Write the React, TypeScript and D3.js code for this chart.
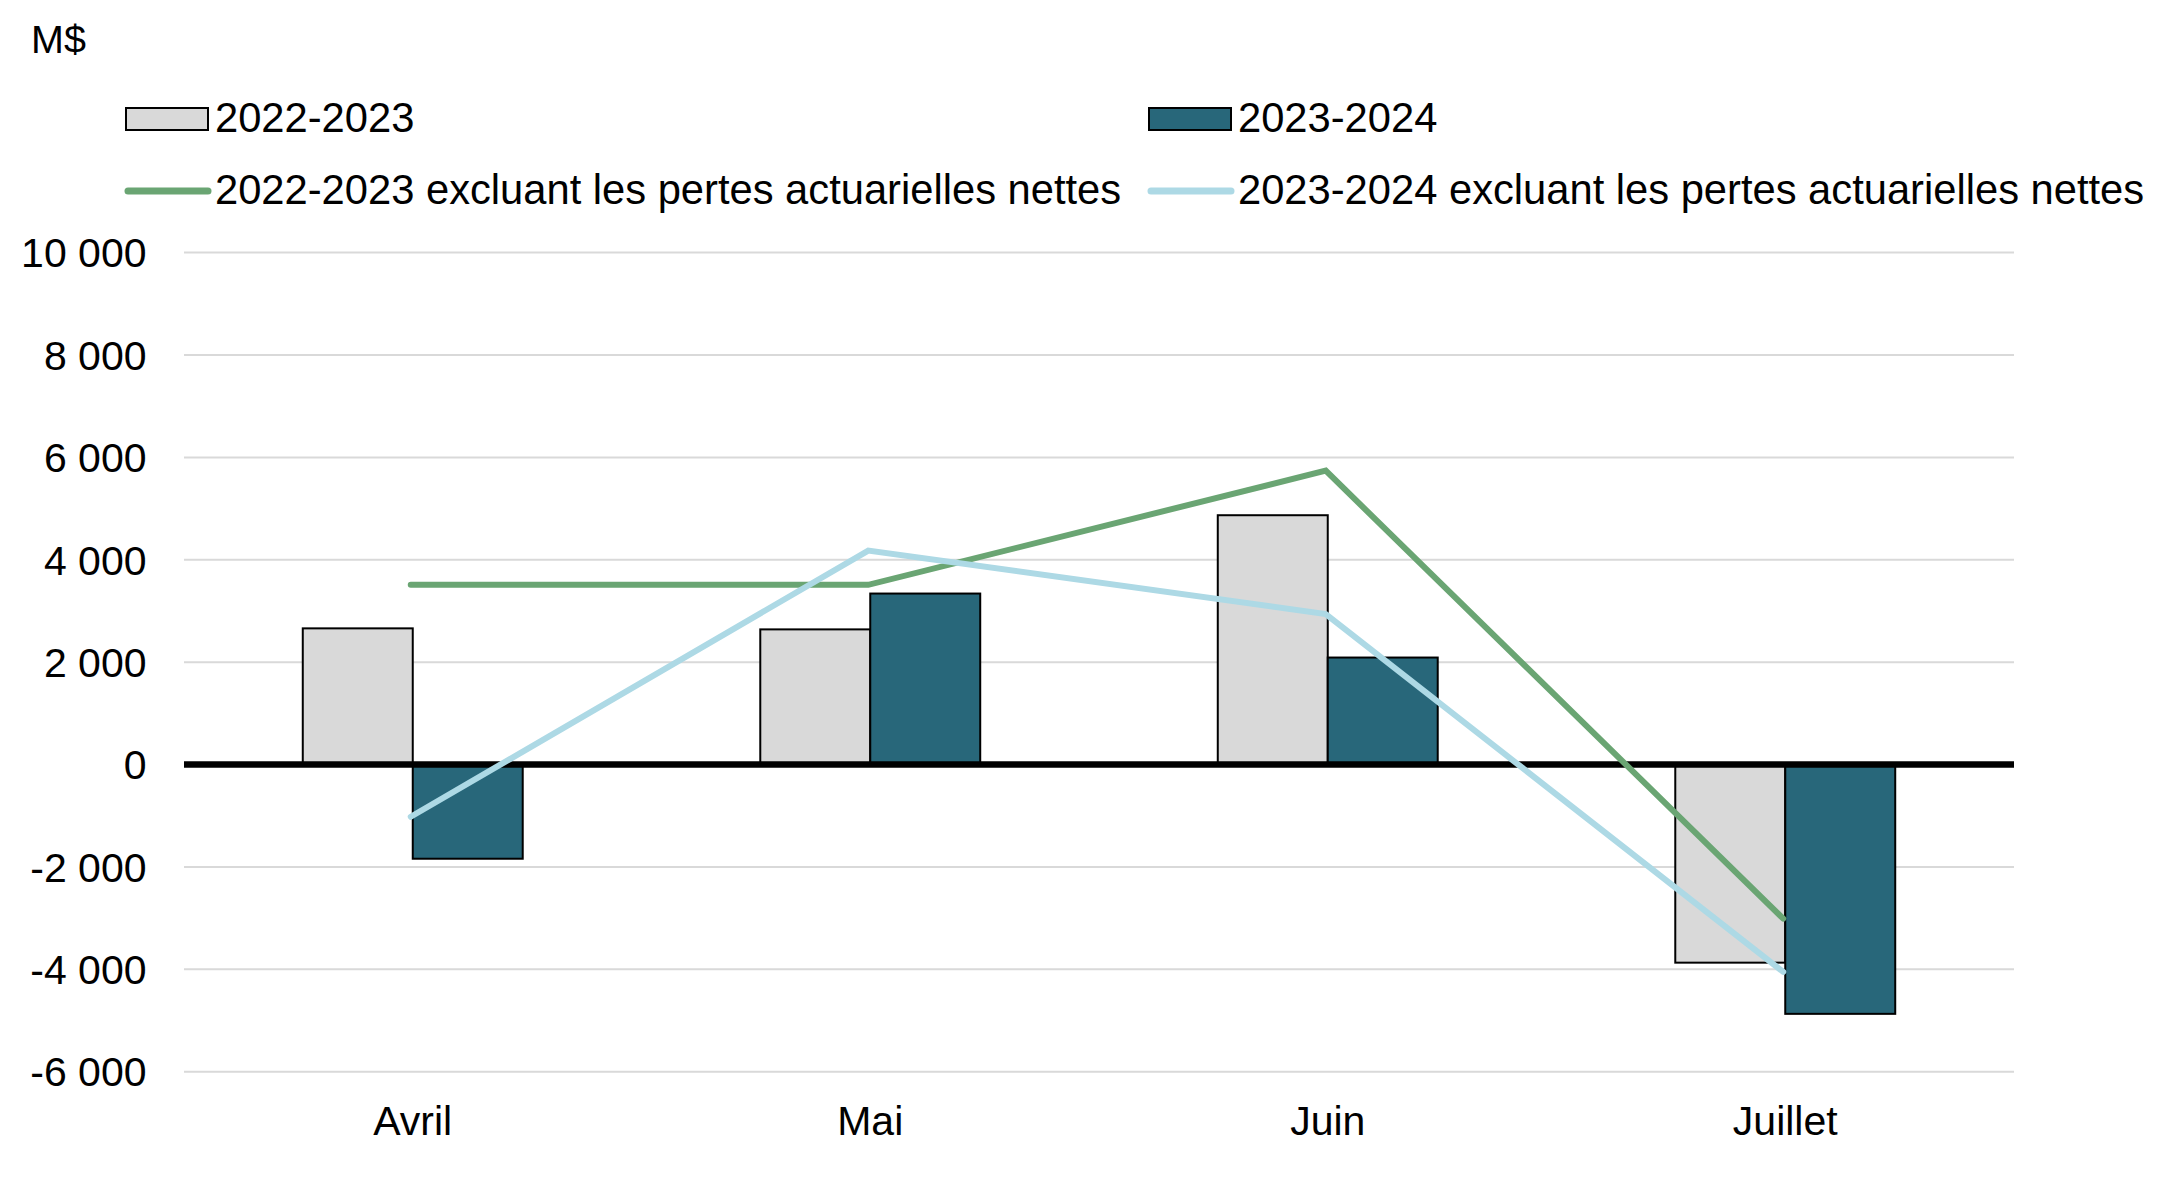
import React, { useEffect, useRef } from 'react';
import * as d3 from 'd3';

const categories = ['Avril', 'Mai', 'Juin', 'Juillet'];
const barSeries = ['2022-2023', '2023-2024'];
const bars2022 = [2660, 2640, 4870, -3870];
const bars2023 = [-1840, 3340, 2090, -4870];
const lineSeries = [
  '2022-2023 excluant les pertes actuarielles nettes',
  '2023-2024 excluant les pertes actuarielles nettes',
];
const line2022 = [3510, 3510, 5740, -3010];
const line2023 = [-1020, 4180, 2940, -4050];
const yTicks = [-6000, -4000, -2000, 0, 2000, 4000, 6000, 8000, 10000];
const unitLabel = 'M$';

const WIDTH = 2177;
const HEIGHT = 1181;
const FONT = '"Liberation Sans", Arial, sans-serif';

const barColors = ['#d9d9d9', '#28677a'];
const lineColors = ['#6aa573', '#add9e5'];

const App: React.FC = () => {
  const svgRef = useRef<SVGSVGElement>(null);

  useEffect(() => {
    if (!svgRef.current) return;
    const svg = d3.select(svgRef.current);
    svg.selectAll('*').remove();

    const plot = { left: 184, right: 2014, top: 252.6, bottom: 1071.7 };

    const x0 = d3.scaleBand<string>()
      .domain(categories)
      .range([plot.left, plot.right])
      .padding(0);

    const x1 = d3.scaleBand<string>()
      .domain(barSeries)
      .range([0, x0.bandwidth()])
      .paddingInner(0)
      .paddingOuter(1.08);

    const y = d3.scaleLinear()
      .domain([-6000, 10000])
      .range([plot.bottom, plot.top]);

    const fr = d3.formatLocale({
      decimal: ',',
      thousands: ' ',
      grouping: [3],
      currency: ['', '$'],
      minus: '-',
    });
    const fmt = fr.format(',');

    // Gridlines
    svg.append('g')
      .selectAll('line')
      .data(yTicks)
      .enter().append('line')
      .attr('x1', plot.left)
      .attr('x2', plot.right)
      .attr('y1', d => y(d))
      .attr('y2', d => y(d))
      .attr('stroke', '#d9d9d9')
      .attr('stroke-width', 2);

    // Y tick labels
    svg.append('g')
      .selectAll('text')
      .data(yTicks)
      .enter().append('text')
      .attr('x', 146.5)
      .attr('y', d => y(d))
      .attr('dy', '0.36em')
      .attr('text-anchor', 'end')
      .attr('font-family', FONT)
      .attr('font-size', 41)
      .attr('fill', '#000')
      .text(d => fmt(d));

    // Unit label
    svg.append('text')
      .attr('x', 31)
      .attr('y', 53)
      .attr('font-family', FONT)
      .attr('font-size', 39.5)
      .attr('fill', '#000')
      .text(unitLabel);

    // Bars
    const barData = [bars2022, bars2023];
    barData.forEach((vals, si) => {
      svg.append('g')
        .selectAll('rect')
        .data(vals)
        .enter().append('rect')
        .attr('x', (_, i) => (x0(categories[i]) ?? 0) + (x1(barSeries[si]) ?? 0))
        .attr('width', x1.bandwidth())
        .attr('y', d => y(Math.max(0, d)))
        .attr('height', d => Math.abs(y(d) - y(0)))
        .attr('fill', barColors[si])
        .attr('stroke', '#000')
        .attr('stroke-width', 2);
    });

    // Zero line
    svg.append('line')
      .attr('x1', plot.left)
      .attr('x2', plot.right)
      .attr('y1', y(0))
      .attr('y2', y(0))
      .attr('stroke', '#000')
      .attr('stroke-width', 6.5);

    // Lines
    const cx = (i: number) => (x0(categories[i]) ?? 0) + x0.bandwidth() / 2 - 2;
    const line = d3.line<number>()
      .x((_, i) => cx(i))
      .y(d => y(d));

    [line2022, line2023].forEach((vals, si) => {
      svg.append('path')
        .datum(vals)
        .attr('fill', 'none')
        .attr('stroke', lineColors[si])
        .attr('stroke-width', 6)
        .attr('stroke-linecap', 'round')
        .attr('stroke-linejoin', 'miter')
        .attr('d', line);
    });

    // Category labels
    svg.append('g')
      .selectAll('text')
      .data(categories)
      .enter().append('text')
      .attr('x', d => (x0(d) ?? 0) + x0.bandwidth() / 2)
      .attr('y', 1135)
      .attr('text-anchor', 'middle')
      .attr('font-family', FONT)
      .attr('font-size', 41)
      .attr('fill', '#000')
      .text(d => d);

    // Legend
    const legendX = [126, 1149];
    const legend = svg.append('g');
    barSeries.forEach((name, i) => {
      legend.append('rect')
        .attr('x', legendX[i])
        .attr('y', 108)
        .attr('width', 82)
        .attr('height', 22)
        .attr('fill', barColors[i])
        .attr('stroke', '#000')
        .attr('stroke-width', 2);
      legend.append('text')
        .attr('x', legendX[i] + 89)
        .attr('y', 132)
        .attr('font-family', FONT)
        .attr('font-size', 41.7)
        .attr('fill', '#000')
        .text(name);
    });
    lineSeries.forEach((name, i) => {
      legend.append('line')
        .attr('x1', legendX[i] + 2)
        .attr('x2', legendX[i] + 82)
        .attr('y1', 191)
        .attr('y2', 191)
        .attr('stroke', lineColors[i])
        .attr('stroke-width', 7)
        .attr('stroke-linecap', 'round');
      legend.append('text')
        .attr('x', legendX[i] + 89)
        .attr('y', 204)
        .attr('font-family', FONT)
        .attr('font-size', 41.7)
        .attr('fill', '#000')
        .text(name);
    });
  }, []);

  return (
    <div style={{ position: 'absolute', left: 0, top: 0, width: WIDTH, height: HEIGHT, background: '#fff' }}>
      <svg ref={svgRef} width={WIDTH} height={HEIGHT} style={{ display: 'block' }} />
    </div>
  );
};

export default App;
